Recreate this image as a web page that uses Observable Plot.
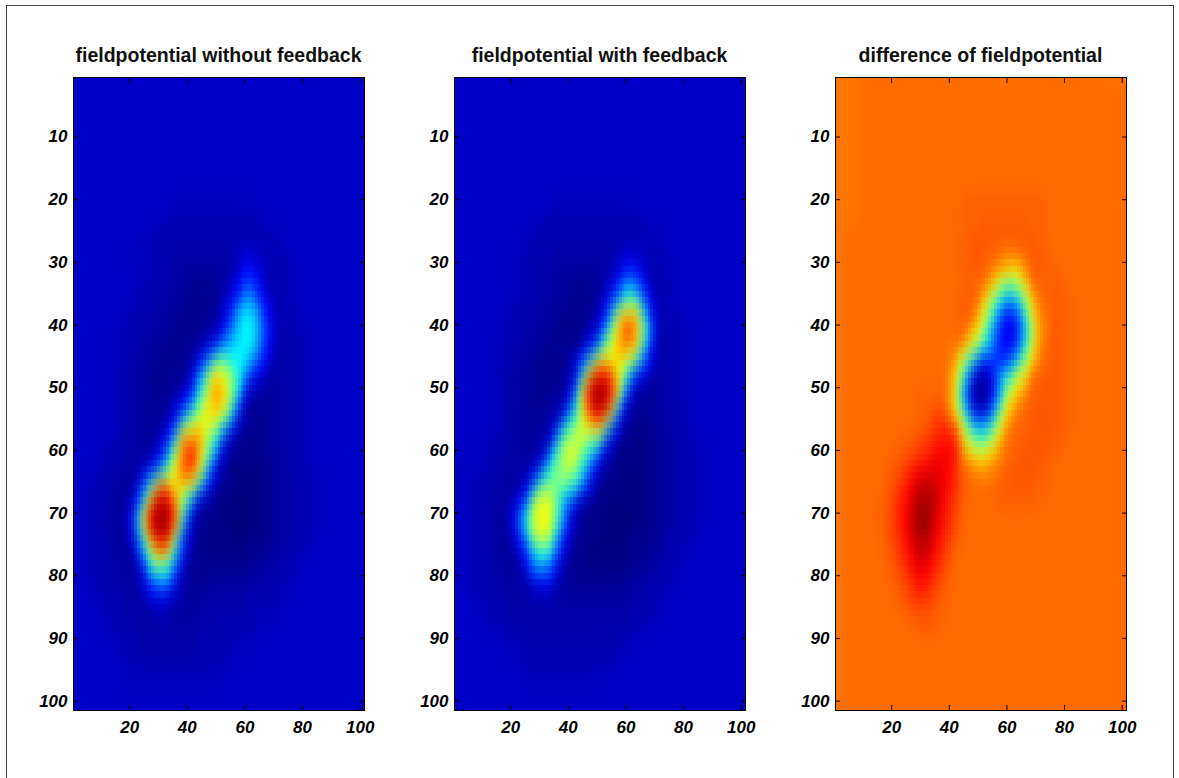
<!DOCTYPE html>
<html><head><meta charset="utf-8">
<script src="https://cdn.jsdelivr.net/npm/d3@7"></script>
<script src="https://cdn.jsdelivr.net/npm/@observablehq/plot@0.6"></script>
<style>
body{margin:0;background:#fff;width:1179px;height:778px;overflow:hidden;position:relative;font-family:"Liberation Sans",Arial,sans-serif;}
#frame{position:absolute;left:6px;top:5px;width:1168px;height:800px;border:1px solid #444;box-sizing:border-box;}
.title{position:absolute;top:45px;line-height:20px;font-weight:bold;font-size:19.5px;text-align:center;width:291px;color:#111;white-space:nowrap;}
.panel{position:absolute;top:67px;}
</style></head><body>
<div id="frame"></div>
<script>
// sample grid positions (data units, image is 101 x 101)
const xGrid = [1,6,11,16,21,26,31,36,41,46,51,56,61,66,71,76,81,86,91,96,101];
const yGrid = [1,6,11,16,21,26,31,36,41,46,51,56,61,66,71,76,81,86,91,96,101];
// extra samples at cell centres around the blobs
const cxGrid = [18.5,23.5,28.5,33.5,38.5,43.5,48.5,53.5,58.5,63.5,68.5];
const cyGrid = [28.5,33.5,38.5,43.5,48.5,53.5,58.5,63.5,68.5,73.5,78.5,83.5];
const xTicks = [20,40,60,80,100];
const yTicks = [10,20,30,40,50,60,70,80,90,100];
const titles = ["fieldpotential without feedback","fieldpotential with feedback","difference of fieldpotential"];
const withoutFeedback = [
"7 7 7 7 7 7 7 7 7 7 7 7 7 7 7 7 7 7 7 7 7",
"7 7 7 7 7 7 7 7 7 7 7 7 7 7 7 7 7 7 7 7 7",
"7 7 7 7 7 7 7 7 7 7 7 7 7 7 7 7 7 7 7 7 7",
"7 7 7 7 7 7 7 7 7 7 7 7 7 7 7 7 7 7 7 7 7",
"7 7 7 7 7 7 7 6 6 6 6 6 6 7 7 7 7 7 7 7 7",
"7 7 7 7 7 6 5 5 5 5 5 5 5 5 6 7 7 7 7 7 7",
"7 7 7 7 7 6 5 4 3 3 3 5 14 6 5 6 7 7 7 7 7",
"7 7 7 7 6 5 4 3 2 2 3 13 30 13 5 6 7 7 7 7 7",
"7 7 7 6 5 4 3 2 2 2 6 27 40 22 5 5 6 7 7 7 7",
"7 7 7 6 4 3 2 2 3 20 52 40 32 13 4 5 6 7 7 7 7",
"7 7 7 6 4 3 2 3 12 50 75 46 5 2 3 5 6 7 7 7 7",
"7 7 7 6 4 3 3 15 56 62 48 13 3 2 3 5 6 7 7 7 7",
"7 7 6 5 4 3 12 58 88 56 11 2 1 2 3 4 6 7 7 7 7",
"7 6 5 3 3 30 86 66 56 18 3 1 0 1 3 4 5 6 7 7 7",
"7 6 4 3 13 85 100 84 7 2 1 0 0 1 3 4 5 6 7 7 7",
"7 6 5 3 4 40 80 34 3 1 1 1 1 2 3 5 6 7 7 7 7",
"7 6 5 4 3 12 28 10 2 2 3 3 3 4 5 6 7 7 7 7 7",
"7 7 6 5 4 3 5 3 3 4 5 5 5 6 6 7 7 7 7 7 7",
"7 7 7 6 5 4 4 4 4 5 5 6 6 7 7 7 7 7 7 7 7",
"7 7 7 7 6 6 6 6 6 6 6 7 7 7 7 7 7 7 7 7 7",
"7 7 7 7 7 7 7 7 7 7 7 7 7 7 7 7 7 7 7 7 7"];
const withoutFeedbackMid = [
"6 6 5 5 4 4 4 4 6 7 6",
"7 6 5 4 3 2 2 4 12 15 5",
"6 5 4 3 2 2 2 10 34 34 12",
"6 4 3 2 2 2 12 30 38 33 12",
"5 3 2 2 2 22 68 62 36 9 3",
"5 3 2 3 16 48 70 62 8 2 3",
"4 3 3 17 80 80 46 6 1 1 3",
"3 3 18 52 82 74 12 1 0 0 2",
"3 22 93 93 46 4 1 0 0 1 2",
"3 28 93 91 15 2 1 1 0 1 2",
"3 6 46 40 5 2 2 2 2 3 4",
"4 3 10 8 3 3 4 4 4 5 5"];
const withFeedback = [
"7 7 7 7 7 7 7 7 7 7 7 7 7 7 7 7 7 7 7 7 7",
"7 7 7 7 7 7 7 7 7 7 7 7 7 7 7 7 7 7 7 7 7",
"7 7 7 7 7 7 7 7 7 7 7 7 7 7 7 7 7 7 7 7 7",
"7 7 7 7 7 7 7 7 7 7 7 7 7 7 7 7 7 7 7 7 7",
"7 7 7 7 7 7 7 6 6 6 6 6 6 7 7 7 7 7 7 7 7",
"7 7 7 7 7 6 5 5 5 5 5 5 5 5 6 7 7 7 7 7 7",
"7 7 7 7 7 5 4 3 3 3 3 6 14 7 5 6 7 7 7 7 7",
"7 7 7 7 6 5 4 3 2 2 4 20 44 22 5 6 7 7 7 7 7",
"7 7 7 6 5 4 3 2 1 2 12 58 84 50 5 5 6 7 7 7 7",
"7 7 7 6 4 3 2 2 4 27 72 64 54 20 4 5 6 7 7 7 7",
"7 7 7 6 4 3 2 2 10 82 100 80 12 2 3 5 6 7 7 7 7",
"7 7 7 6 4 3 3 8 46 62 74 18 2 1 3 4 6 7 7 7 7",
"7 7 6 5 4 3 6 46 62 42 12 2 1 1 2 4 5 6 7 7 7",
"7 6 5 4 3 10 52 50 40 17 2 1 1 1 2 4 5 6 7 7 7",
"7 6 5 3 10 46 66 48 8 2 1 0 0 1 2 4 5 6 7 7 7",
"7 6 5 3 3 20 44 20 2 1 0 0 1 2 3 5 6 7 7 7 7",
"7 6 5 4 3 5 12 5 2 2 2 2 3 4 5 6 7 7 7 7 7",
"7 7 6 5 4 4 4 4 4 4 4 4 4 5 6 7 7 7 7 7 7",
"7 7 7 7 6 5 5 5 5 5 5 5 6 7 7 7 7 7 7 7 7",
"7 7 7 7 7 6 6 6 6 6 6 7 7 7 7 7 7 7 7 7 7",
"7 7 7 7 7 7 7 7 7 7 7 7 7 7 7 7 7 7 7 7 7"];
const withFeedbackMid = [
"6 6 5 5 4 4 4 4 6 7 6",
"7 6 5 4 3 2 2 4 20 22 5",
"6 5 4 3 2 2 2 15 74 74 16",
"6 4 3 2 2 2 15 52 77 70 14",
"5 3 2 2 2 18 93 93 55 7 3",
"5 3 2 3 6 46 93 91 12 2 3",
"4 3 3 7 54 60 46 10 1 1 2",
"3 3 9 43 55 47 10 1 0 0 1",
"3 14 60 60 25 3 1 0 0 0 1",
"3 18 60 58 13 2 1 0 0 1 2",
"3 4 28 24 3 2 1 1 1 2 3",
"4 3 5 4 3 3 3 3 3 4 5"];
const difference = [
"76 76 77 77 77 77 77 77 77 77 77 77 77 77 77 77 77 77 77 77 77",
"76 76 77 77 77 77 77 77 77 77 77 77 77 77 77 77 77 77 77 77 77",
"76 76 77 77 77 77 77 77 77 77 77 77 77 77 77 77 77 77 77 77 77",
"76 76 77 77 77 77 77 77 77 77 77 77 77 77 77 77 77 77 77 77 77",
"76 76 77 77 77 77 77 77 77 78 78 78 78 78 78 77 77 77 77 77 77",
"76 77 77 77 77 77 77 77 77 78 79 79 79 79 78 77 77 77 77 77 77",
"76 77 77 77 77 77 77 77 77 78 79 75 70 75 79 78 77 77 77 77 77",
"76 77 77 77 77 77 77 77 77 79 74 46 25 50 77 79 78 77 77 77 77",
"76 77 77 77 77 77 77 77 77 78 60 20 8 28 72 79 78 77 77 77 77",
"76 77 77 77 77 77 77 77 74 46 12 15 20 52 76 79 78 77 77 77 77",
"76 77 77 77 77 77 78 78 70 18 0 15 60 75 79 79 78 77 77 77 77",
"76 77 77 77 77 77 79 83 82 50 28 50 76 78 79 79 78 77 77 77 77",
"76 77 77 77 78 80 84 88 88 72 64 73 78 79 79 78 77 77 77 77 77",
"76 77 77 77 80 87 95 92 85 78 77 78 79 79 78 77 77 77 77 77 77",
"76 77 77 78 82 90 100 90 82 77 77 77 77 77 77 77 77 77 77 77 77",
"76 77 77 77 80 87 94 86 78 77 77 77 77 77 77 77 77 77 77 77 77",
"76 77 77 77 78 82 87 81 77 77 77 77 77 77 77 77 77 77 77 77 77",
"76 77 77 77 77 78 80 78 77 77 77 77 77 77 77 77 77 77 77 77 77",
"76 77 77 77 77 77 77 77 77 77 77 77 77 77 77 77 77 77 77 77 77",
"76 77 77 77 77 77 77 77 77 77 77 77 77 77 77 77 77 77 77 77 77",
"76 77 77 77 77 77 77 77 77 77 77 77 77 77 77 77 77 77 77 77 77"];
const differenceMid = [
"77 77 77 77 77 78 79 78 76 76 79",
"77 77 77 77 77 77 78 75 52 52 77",
"77 77 77 77 77 78 77 52 14 14 60",
"77 77 77 77 77 77 55 32 12 16 58",
"77 77 77 77 77 56 4 4 35 60 79",
"77 77 77 78 79 55 6 8 55 76 79",
"77 78 79 82 86 80 50 50 75 78 79",
"78 81 88 90 88 80 76 74 78 79 79",
"79 86 95 95 86 79 77 77 78 78 78",
"79 85 95 93 84 78 77 77 77 77 77",
"78 82 90 87 80 77 77 77 77 77 77",
"77 79 83 81 78 77 77 77 77 77 77"];
// jet colour map
const jetStops = [0, 12.5, 37.5, 62.5, 87.5, 100];
const jetColors = ["#000080", "#0000ff", "#00ffff", "#ffff00", "#ff0000", "#800000"];

const panelLefts = [73, 454, 835];
const ML = 45, MR = 10, MT = 10, MB = 40, PW = 291, PH = 633;

function addPoints(pts, rows, xs, ys) {
  rows.forEach((row, j) => row.trim().split(/\s+/).map(Number).forEach((v, i) => pts.push({x: xs[i], y: ys[j], v})));
  return pts;
}

[[withoutFeedback, withoutFeedbackMid], [withFeedback, withFeedbackMid], [difference, differenceMid]].forEach(([rows, mid], k) => {
  const pts = addPoints(addPoints([], rows, xGrid, yGrid), mid, cxGrid, cyGrid);
  const chart = Plot.plot({
    width: PW + ML + MR, height: PH + MT + MB,
    marginLeft: ML, marginRight: MR, marginTop: MT, marginBottom: MB,
    x: {domain: [0.5, 101.5]},
    y: {domain: [0.5, 101.5], reverse: true},
    color: {type: "linear", domain: jetStops, range: jetColors, interpolate: "rgb", clamp: true},
    style: {fontFamily: "'Liberation Sans', Arial, sans-serif", fontSize: "17px", fontWeight: "bold", fontStyle: "italic", color: "#000", background: "transparent", overflow: "visible"},
    marks: [
      Plot.raster(pts, {x: "x", y: "y", fill: "v", interpolate: "barycentric",
        x1: 0.5, x2: 101.5, y1: 0.5, y2: 101.5, width: 101, height: 101, blur: 1, imageRendering: "pixelated"}),
      Plot.frame({stroke: "#000"}),
      Plot.axisX(xTicks, {anchor: "bottom", tickSize: -5, tickPadding: 15, label: null}),
      Plot.axisX(xTicks, {anchor: "top", tickSize: -5, tickFormat: () => "", label: null}),
      Plot.axisY(yTicks, {anchor: "left", tickSize: -5, tickPadding: 11, label: null}),
      Plot.axisY(yTicks, {anchor: "right", tickSize: -5, tickFormat: () => "", label: null})
    ]
  });
  chart.classList.add("panel");
  chart.style.left = (panelLefts[k] - ML) + "px";
  document.body.appendChild(chart);
  const t = document.createElement("div");
  t.className = "title";
  t.style.left = panelLefts[k] + "px";
  t.textContent = titles[k];
  document.body.appendChild(t);
});
</script>
</body></html>
